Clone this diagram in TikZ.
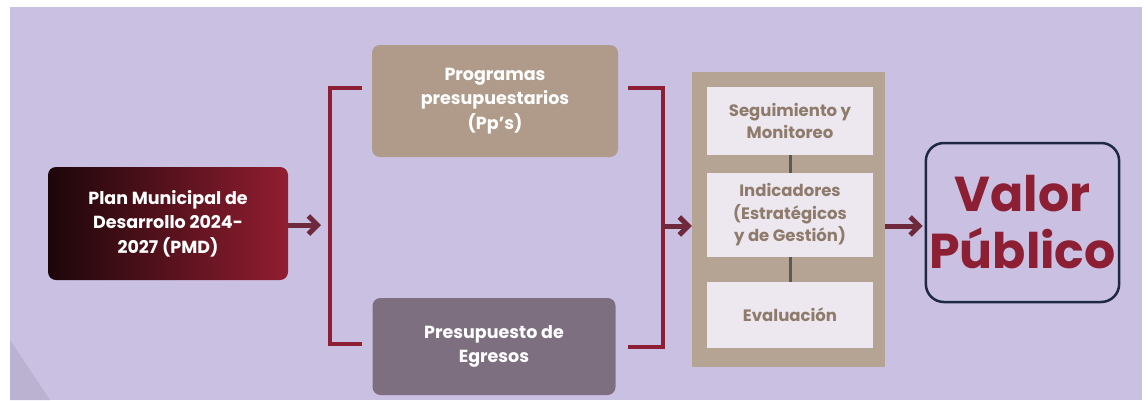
\documentclass[tikz,border=0pt]{standalone}
\usepackage{fontspec}
\setmainfont{Poppins}
\usetikzlibrary{arrows.meta,positioning}
\definecolor{fondo}{HTML}{C9C0E2}
\definecolor{vino}{HTML}{8C1F33}
\definecolor{flecha}{HTML}{6E2A3C}
\definecolor{arena}{HTML}{B09B8B}
\definecolor{malva}{HTML}{7E6F80}
\definecolor{caja}{HTML}{B5A494}
\definecolor{claro}{HTML}{EDE8F0}
\definecolor{texcaja}{HTML}{8E7B6B}
\definecolor{marino}{HTML}{1E2840}
\tikzset{
  bloque/.style={rounded corners=8pt, text=white, align=center,
    font=\fontsize{17.5}{24.5}\selectfont\bfseries},
  subbloque/.style={fill=claro, minimum width=166pt, align=center, text=texcaja,
    font=\fontsize{16.5}{22.5}\selectfont\bfseries},
  flechita/.style={draw=flecha, line width=5pt,
    -{Straight Barb[length=9pt,width=18pt]}},
  corchete/.style={draw=vino, line width=3.5pt},
  enlace/.style={draw=black!65, line width=3pt}
}
\begin{document}
\begin{tikzpicture}[x=1pt,y=-1pt]
\useasboundingbox (0,0) rectangle (1148,400);
\fill[white] (0,0) rectangle (1148,400);
\fill[fondo] (10,7) rectangle (1142,400);
\fill[fondo!93!black] (10,340) -- (50,400) -- (10,400) -- cycle;

% bloques de la izquierda
\node[bloque, minimum width=240pt, minimum height=113pt,
  left color=black!80!vino, right color=vino!95!red] (pmd) at (168,223.5)
  {Plan Municipal de\\Desarrollo 2024-\\2027 (PMD)};
\node[bloque, fill=arena, minimum width=246pt, minimum height=112pt] (pps) at (495,101)
  {Programas\\presupuestarios\\(Pp’s)};
\node[bloque, fill=malva, minimum width=243pt, minimum height=97pt] (egr) at (494,346.5)
  {Presupuesto de\\Egresos};

% corchetes
\draw[corchete] (362,88) -- (330,88) -- (330,344) -- (362,344);
\draw[corchete] (628,88) -- (663,88) -- (663,347) -- (628,347);
\coordinate (lcor) at (321,225);
\coordinate (rcor) at (663,226);

% seguimiento
\node[fill=caja, minimum width=193pt, minimum height=295pt] (marco) at (788.5,219.5) {};
\node[subbloque, minimum height=68pt] (seg) at (790,121) {Seguimiento y\\Monitoreo};
\node[subbloque, minimum height=84pt] (ind) at (790,215) {Indicadores\\(Estratégicos\\y de Gestión)};
\node[subbloque, minimum height=66pt] (eva) at (790,315) {Evaluación};
\draw[enlace] (seg) -- (ind);
\draw[enlace] (ind) -- (eva);

% valor publico
\node[draw=marino, line width=2.5pt, rounded corners=18pt, minimum width=191pt,
  minimum height=159pt, text=vino, align=center,
  font=\fontsize{49}{57}\selectfont\bfseries] (valor) at (1022.5,222.5) {Valor\\Público};

\draw[flechita] (pmd.east |- lcor) -- (lcor);
\draw[flechita] (rcor) -- (marco.west |- rcor);
\draw[flechita] (marco.east |- rcor) -- ([xshift=-2pt]valor.west |- rcor);
\end{tikzpicture}
\end{document}
